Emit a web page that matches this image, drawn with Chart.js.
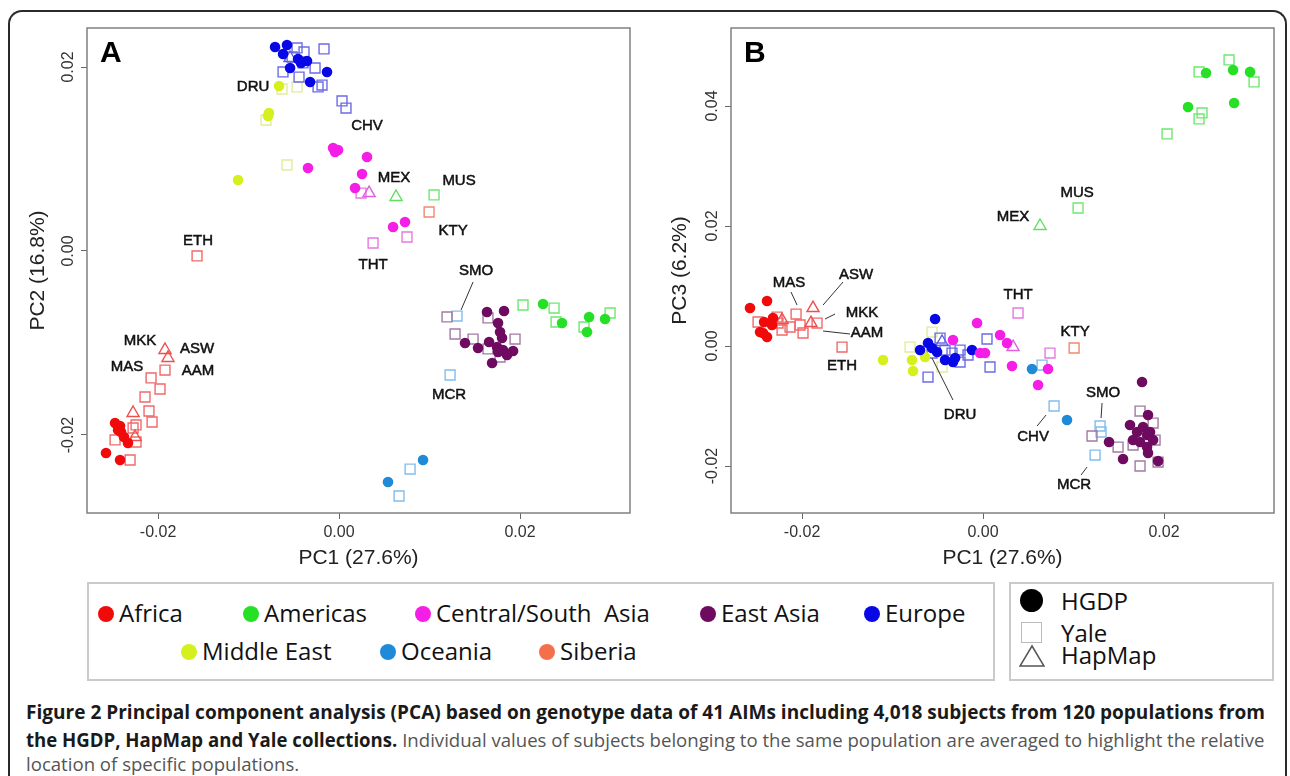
<!DOCTYPE html>
<html>
<head>
<meta charset="utf-8">
<script src="https://cdn.jsdelivr.net/npm/chart.js@4.4.1/dist/chart.umd.min.js"></script>
<style>
body { margin: 0; width: 1290px; height: 776px; overflow: hidden; background: #fff; position: relative; font-family: 'Open Sans', sans-serif; }
#frame { position: absolute; left: 8px; top: 10px; width: 1279px; height: 820px; box-sizing: border-box; border: 2px solid #2a2a2a; border-bottom: none; border-radius: 14px 14px 0 0; }
canvas { position: absolute; top: 0; }
#chartA { left: 0; }
#chartB { left: 645px; }
.box { position: absolute; border: 2px solid #cacaca; box-sizing: border-box; top: 582px; height: 99px; }
.item { position: absolute; font-size: 24px; line-height: 30px; color: #111; white-space: nowrap; }
.dot { position: absolute; width: 16px; height: 16px; border-radius: 50%; }
.cap { position: absolute; left: 26px; font-size: 19px; line-height: 26px; white-space: nowrap; transform-origin: 0 50%; color: #555; }
.cap b { color: #1a1a1a; }
</style>
</head>
<body>
<div id="frame"></div>
<canvas id="chartA" width="645" height="575"></canvas>
<canvas id="chartB" width="645" height="575"></canvas>
<div class="box" style="left:87px;width:908px"></div>
<div class="box" style="left:1009px;width:265px"></div>
<div id="legend"></div>
<div class="dot" style="left:1020px;top:589px;width:23px;height:23px;background:#000"></div>
<div style="position:absolute;left:1021px;top:622px;width:21px;height:21px;border:1.5px solid #bbb;box-sizing:border-box"></div>
<svg style="position:absolute;left:1019px;top:644px" width="26" height="24"><polygon points="13,2 25,22 1,22" fill="none" stroke="#555" stroke-width="1.5"/></svg>
<div class="item" style="left:1061px;top:586px">HGDP</div>
<div class="item" style="left:1061px;top:618px">Yale</div>
<div class="item" style="left:1061px;top:640px">HapMap</div>
<div class="cap" id="cap1" style="top:699px"><b>Figure 2 Principal component analysis (PCA) based on genotype data of 41 AIMs including 4,018 subjects from 120 populations from</b></div>
<div class="cap" id="cap2" style="top:727px"><b>the HGDP, HapMap and Yale collections.</b> Individual values of subjects belonging to the same population are averaged to highlight the relative</div>
<div class="cap" id="cap3" style="top:751px">location of specific populations.</div>
<script>
const regions = ['Africa', 'Americas', 'Central/South  Asia', 'East Asia', 'Europe', 'Middle East', 'Oceania', 'Siberia'];
const regionColors = ['#f00a0a', '#25e025', '#f51ee6', '#6e0a5f', '#0808e6', '#d6f01e', '#1e8ad8', '#f4704c'];
const yaleColors = ['#ef6a6a', '#6ee86e', '#e57ae0', '#a27aa2', '#6c6ce6', '#e2ec98', '#82bdec', '#f0896c'];
const hapmapColors = ['#ee5050', '#60e060', '#e060e0', '#a060a0', '#6060e0', '#d6e880', '#70b0e8', '#f08060'];

const xTicks = [-0.02, 0, 0.02];
const yTicksA = [-0.02, 0, 0.02];
const yTicksB = [-0.02, 0, 0.02, 0.04];

// [region, PC1, PC2]
const hgdpA = [
    [0, -0.02475, -0.01870], [0, -0.02420, -0.01902], [0, -0.02409, -0.01967], [0, -0.02376, -0.02022],
    [0, -0.02332, -0.02087], [0, -0.02575, -0.02196], [0, -0.02420, -0.02272], [0, -0.02442, -0.01946],
    [1, 0.02254, -0.00576], [1, 0.02464, -0.00783], [1, 0.02763, -0.00717], [1, 0.02740, -0.00880], [1, 0.02939, -0.00739],
    [2, -0.00066, 0.01120], [2, -0.00011, 0.01098], [2, -0.00044, 0.01076], [2, 0.00309, 0.01022], [2, -0.00343, 0.00902],
    [2, 0.00254, 0.00837], [2, 0.00177, 0.00685], [2, 0.00597, 0.00261], [2, 0.00729, 0.00315],
    [3, 0.01635, -0.00663], [3, 0.01823, -0.00652], [3, 0.01757, -0.00783], [3, 0.01779, -0.00880], [3, 0.01801, -0.00946],
    [3, 0.01392, -0.01000], [3, 0.01536, -0.01054], [3, 0.01658, -0.00989], [3, 0.01746, -0.01044], [3, 0.01812, -0.01076],
    [3, 0.01923, -0.01087], [3, 0.01856, -0.01130], [3, 0.01691, -0.01217], [3, 0.01757, -0.01098],
    [4, -0.00707, 0.02217], [4, -0.00575, 0.02239], [4, -0.00619, 0.02141], [4, -0.00541, 0.01989], [4, -0.00420, 0.02044],
    [4, -0.00354, 0.02065], [4, -0.00133, 0.01946], [4, -0.00320, 0.01837], [4, -0.00453, 0.02087],
    [5, -0.00663, 0.01794], [5, -0.00774, 0.01500], [5, -0.00785, 0.01467], [5, -0.01116, 0.00772],
    [6, 0.00928, -0.02272], [6, 0.00541, -0.02511]
];
const yaleA = [
    [0, -0.01923, -0.01294], [0, -0.02077, -0.01380], [0, -0.01978, -0.01500], [0, -0.02144, -0.01587], [0, -0.02100, -0.01739],
    [0, -0.02066, -0.01859], [0, -0.02243, -0.01891], [0, -0.02475, -0.02054], [0, -0.02243, -0.02076], [0, -0.02309, -0.02272],
    [0, -0.02276, -0.01924], [0, -0.01569, -0.00054],
    [1, 0.01050, 0.00609], [1, 0.02033, -0.00587], [1, 0.02376, -0.00620], [1, 0.02398, -0.00772], [1, 0.02707, -0.00826], [1, 0.02995, -0.00674],
    [2, 0.00243, 0.00630], [2, 0.00376, 0.00087], [2, 0.00751, 0.00152],
    [3, 0.01193, -0.00717], [3, 0.01646, -0.00728], [3, 0.01282, -0.00902], [3, 0.01481, -0.00957], [3, 0.01945, -0.00957],
    [3, 0.01646, -0.01065], [3, 0.01779, -0.01152],
    [4, -0.00464, 0.02207], [4, -0.00387, 0.02163], [4, -0.00166, 0.02196], [4, -0.00519, 0.02109], [4, -0.00619, 0.01946],
    [4, -0.00442, 0.01891], [4, -0.00265, 0.01989], [4, -0.00232, 0.01783], [4, -0.00188, 0.01804], [4, 0.00033, 0.01631],
    [4, 0.00077, 0.01554], [4, -0.00398, 0.02044],
    [5, -0.00630, 0.01761], [5, -0.00464, 0.01783], [5, -0.00807, 0.01424], [5, -0.00575, 0.00935],
    [6, 0.01304, -0.00707], [6, 0.01227, -0.01348], [6, 0.00785, -0.02370], [6, 0.00663, -0.02663],
    [7, 0.00995, 0.00424]
];
const hapmapA = [
    [0, -0.01923, -0.01076], [0, -0.01890, -0.01163], [0, -0.02276, -0.01761], [0, -0.02254, -0.02022],
    [1, 0.00630, 0.00587], [2, 0.00332, 0.00630], [4, -0.00541, 0.02098]
];

// [region, PC1, PC3]
const hgdpB = [
    [0, -0.02575, 0.00633], [0, -0.02387, 0.00750], [0, -0.02420, 0.00400], [0, -0.02464, 0.00233],
    [0, -0.02387, 0.00150], [0, -0.02431, 0.00217], [0, -0.02321, 0.00467], [0, -0.02332, 0.00350],
    [1, 0.02464, 0.04551], [1, 0.02763, 0.04601], [1, 0.02950, 0.04568], [1, 0.02265, 0.03984], [1, 0.02774, 0.04051],
    [2, -0.00066, 0.00383], [2, -0.00332, 0.00100], [2, -0.00033, -0.00117], [2, 0.00022, -0.00117], [2, 0.00188, 0.00183],
    [2, 0.00265, 0.00050], [2, 0.00320, -0.00333], [2, 0.00608, -0.00650], [2, 0.00718, -0.00383],
    [3, 0.01757, -0.00600], [3, 0.01823, -0.01150], [3, 0.01624, -0.01317], [3, 0.01702, -0.01434], [3, 0.01768, -0.01350],
    [3, 0.01812, -0.01484], [3, 0.01845, -0.01434], [3, 0.01658, -0.01567], [3, 0.01735, -0.01600], [3, 0.01812, -0.01684],
    [3, 0.01823, -0.01784], [3, 0.01392, -0.01600], [3, 0.01547, -0.01884], [3, 0.01934, -0.01917], [3, 0.01879, -0.01567],
    [4, -0.00530, 0.00450], [4, -0.00696, -0.00067], [4, -0.00608, 0.00050], [4, -0.00564, -0.00033], [4, -0.00420, -0.00233],
    [4, -0.00332, -0.00267], [4, -0.00309, -0.00200], [4, -0.00122, -0.00067], [4, -0.00508, -0.00100],
    [5, -0.01105, -0.00233], [5, -0.00785, -0.00233], [5, -0.00774, -0.00417], [5, -0.00641, -0.00183],
    [6, 0.00541, -0.00383], [6, 0.00928, -0.01233]
];
const yaleB = [
    [0, -0.02486, 0.00400], [0, -0.02276, 0.00483], [0, -0.02221, 0.00267], [0, -0.02133, 0.00317], [0, -0.02066, 0.00533],
    [0, -0.02022, 0.00350], [0, -0.01989, 0.00217], [0, -0.01834, 0.00383], [0, -0.02265, 0.00383], [0, -0.01558, -0.00017],
    [1, 0.02718, 0.04768], [1, 0.02387, 0.04568], [1, 0.02995, 0.04401], [1, 0.02420, 0.03884], [1, 0.02387, 0.03784],
    [1, 0.02033, 0.03534], [1, 0.01050, 0.02300],
    [2, 0.00387, 0.00550], [2, 0.00740, -0.00117],
    [3, 0.01735, -0.01084], [3, 0.01879, -0.01284], [3, 0.01204, -0.01500], [3, 0.01492, -0.01684], [3, 0.01658, -0.01650],
    [3, 0.01901, -0.01567], [3, 0.01735, -0.02000], [3, 0.01934, -0.01934],
    [4, -0.00475, 0.00133], [4, -0.00420, -0.00067], [4, -0.00343, -0.00117], [4, -0.00254, -0.00067], [4, -0.00254, -0.00267],
    [4, -0.00166, -0.00150], [4, -0.00608, -0.00517], [4, 0.00044, 0.00117], [4, 0.00077, -0.00350], [4, -0.00564, -0.00117],
    [5, -0.00807, -0.00017], [5, -0.00564, 0.00233], [5, -0.00453, -0.00350],
    [6, 0.00652, -0.00317], [6, 0.00785, -0.01000], [6, 0.01293, -0.01333], [6, 0.01304, -0.01433], [6, 0.01238, -0.01817],
    [7, 0.01006, -0.00033]
];
const hapmapB = [
    [0, -0.01879, 0.00633], [0, -0.01901, 0.00383], [0, -0.02221, 0.00433],
    [1, 0.00630, 0.02000], [2, 0.00332, -0.00017], [4, -0.00453, 0.00067]
];

// population tags [text, PC1, PCy] and leader lines [x1, y1, x2, y2]
const tagsA = [
    ['DRU', -0.00950, 0.01783], ['CHV', 0.00309, 0.01359], ['MEX', 0.00608, 0.00794], ['MUS', 0.01326, 0.00761],
    ['KTY', 0.01260, 0.00217], ['THT', 0.00376, -0.00152], ['ETH', -0.01558, 0.00109], ['SMO', 0.01514, -0.00217],
    ['MKK', -0.02199, -0.00978], ['ASW', -0.01569, -0.01065], ['MAS', -0.02343, -0.01261], ['AAM', -0.01558, -0.01304],
    ['MCR', 0.01216, -0.01565]
];
const leadersA = [[0.01481, -0.00337, 0.01348, -0.00641]];
const tagsB = [
    ['MEX', 0.00332, 0.02150], ['MUS', 0.01039, 0.02550], ['MAS', -0.02144, 0.01050], ['ASW', -0.01403, 0.01184],
    ['MKK', -0.01337, 0.00550], ['AAM', -0.01282, 0.00217], ['ETH', -0.01558, -0.00333], ['THT', 0.00387, 0.00850],
    ['KTY', 0.01017, 0.00233], ['DRU', -0.00254, -0.01150], ['CHV', 0.00553, -0.01517], ['SMO', 0.01326, -0.00784],
    ['MCR', 0.01006, -0.02317]
];
const leadersB = [
    [-0.02122, 0.00900, -0.02055, 0.00683], [-0.01547, 0.01067, -0.01768, 0.00683], [-0.01635, 0.00533, -0.01746, 0.00450],
    [-0.01768, 0.00250, -0.01470, 0.00200], [-0.00564, -0.00200, -0.00332, -0.00900], [0.00597, -0.01334, 0.00696, -0.01150],
    [0.01315, -0.00950, 0.01304, -0.01200], [0.01083, -0.02150, 0.01149, -0.02017]
];

Chart.defaults.font.family = '"Liberation Sans", Arial, sans-serif';

// legend (dot centres)
const legendSpots = [[106, 614], [251, 614], [423, 614], [708, 614], [872, 614], [189, 652], [388, 652], [547, 652]];
let legendHtml = '';
regions.forEach((r, i) => {
    const [cx, cy] = legendSpots[i];
    legendHtml += '<div class="dot" style="left:' + (cx - 8) + 'px;top:' + (cy - 8) + 'px;background:' + regionColors[i] + '"></div>';
    legendHtml += '<div class="item" style="left:' + (cx + 13) + 'px;top:' + (cy - 16) + 'px">' + r.replace('  ', '&nbsp; ') + '</div>';
});
document.getElementById('legend').innerHTML = legendHtml;

function buildSets(rows, kind) {
    let sets = [];
    regions.forEach((r, i) => {
        const pts = rows.filter(p => p[0] === i).map(p => ({x: p[1], y: p[2]}));
        if (!pts.length) return;
        if (kind === 'hgdp') {
            sets.push({label: r, data: pts, pointStyle: 'circle', pointRadius: 5.3,
                backgroundColor: regionColors[i], borderWidth: 0});
        } else if (kind === 'yale') {
            sets.push({label: r, data: pts, pointStyle: 'rect', pointRadius: 7,
                backgroundColor: 'rgba(255,255,255,0)', borderColor: yaleColors[i], borderWidth: 1.4});
        } else {
            sets.push({label: r, data: pts, pointStyle: 'triangle', pointRadius: 7,
                backgroundColor: 'rgba(255,255,255,0)', borderColor: hapmapColors[i], borderWidth: 1.4});
        }
    });
    return sets;
}

const decor = {
    id: 'decor',
    afterDatasetsDraw(chart, args, opts) {
        const ctx = chart.ctx, a = chart.chartArea, sx = chart.scales.x, sy = chart.scales.y;
        ctx.save();
        ctx.strokeStyle = '#808080';
        ctx.lineWidth = 1.5;
        ctx.strokeRect(a.left, a.top, a.right - a.left, a.bottom - a.top);
        ctx.fillStyle = '#000';
        ctx.textBaseline = 'middle';
        ctx.textAlign = 'left';
        ctx.font = 'bold 30px "Liberation Sans", Arial, sans-serif';
        ctx.fillText(opts.panel, a.left + 13, a.top + 26);
        ctx.strokeStyle = '#333';
        ctx.lineWidth = 1;
        for (const l of opts.leaders) {
            ctx.beginPath();
            ctx.moveTo(sx.getPixelForValue(l[0]), sy.getPixelForValue(l[1]));
            ctx.lineTo(sx.getPixelForValue(l[2]), sy.getPixelForValue(l[3]));
            ctx.stroke();
        }
        // tags look a little heavy in the print, so add a hairline stroke
        ctx.font = '15px "Liberation Sans", Arial, sans-serif';
        ctx.textAlign = 'center';
        ctx.fillStyle = '#111';
        ctx.strokeStyle = '#111';
        ctx.lineWidth = 0.5;
        for (const t of opts.tags) {
            const px = sx.getPixelForValue(t[1]), py = sy.getPixelForValue(t[2]);
            ctx.fillText(t[0], px, py);
            ctx.strokeText(t[0], px, py);
        }
        ctx.restore();
    }
};

function buildChart(canvas, panel, sets, yMin, yMax, yTicks, yTitle, yWidth, yTitlePad, rightPad, tags, leaders) {
    new Chart(canvas, {
        type: 'scatter',
        data: {datasets: sets},
        options: {
            responsive: false,
            animation: false,
            events: [],
            layout: {padding: {left: 0, top: 28, right: rightPad, bottom: 0}},
            scales: {
                x: {
                    type: 'linear', min: -0.02785, max: 0.03215,
                    afterBuildTicks: s => { s.ticks = xTicks.map(v => ({value: v})); },
                    afterFit: s => { s.height = 62; },
                    grid: {drawOnChartArea: false, drawTicks: true, tickLength: 6, color: '#666'},
                    border: {display: false},
                    ticks: {color: '#333', font: {size: 16}, padding: 4, autoSkip: false, maxRotation: 0,
                        callback: v => v.toFixed(2)},
                    title: {display: true, text: 'PC1 (27.6%)', color: '#222', font: {size: 21},
                        padding: {top: 0, bottom: 4}}
                },
                y: {
                    type: 'linear', min: yMin, max: yMax,
                    afterBuildTicks: s => { s.ticks = yTicks.map(v => ({value: v})); },
                    afterFit: s => { s.width = yWidth; },
                    grid: {drawOnChartArea: false, drawTicks: true, tickLength: 6, color: '#666'},
                    border: {display: false},
                    ticks: {color: '#333', font: {size: 16}, padding: -6, autoSkip: false,
                        minRotation: 90, maxRotation: 90, crossAlign: 'center',
                        callback: v => v.toFixed(2)},
                    title: {display: true, text: yTitle, color: '#222', font: {size: 21},
                        padding: {top: yTitlePad, bottom: 0}}
                }
            },
            plugins: {
                legend: {display: false},
                tooltip: {enabled: false},
                decor: {panel: panel, tags: tags, leaders: leaders}
            }
        },
        plugins: [decor]
    });
}

buildChart(document.getElementById('chartA'), 'A',
    buildSets(hgdpA, 'hgdp').concat(buildSets(hapmapA, 'hapmap'), buildSets(yaleA, 'yale')),
    -0.02848, 0.02424, yTicksA, 'PC2 (16.8%)', 87, 26, 15, tagsA, leadersA);
buildChart(document.getElementById('chartB'), 'B',
    buildSets(hgdpB, 'hgdp').concat(buildSets(hapmapB, 'hapmap'), buildSets(yaleB, 'yale')),
    -0.02783, 0.0530, yTicksB, 'PC3 (6.2%)', 86, 23, 16, tagsB, leadersB);

// caption lines are stretched to the column width like the typeset original
function fitCaption() {
    const target = 1239;
    const c1 = document.getElementById('cap1');
    const c2 = document.getElementById('cap2');
    const c3 = document.getElementById('cap3');
    const k1 = target / c1.scrollWidth;
    const k2 = target / c2.scrollWidth;
    c1.style.transform = 'scaleX(' + k1 + ')';
    c2.style.transform = 'scaleX(' + k2 + ')';
    c3.style.transform = 'scaleX(' + k2 + ')';
}
if (document.fonts && document.fonts.ready) {
    document.fonts.ready.then(fitCaption);
} else {
    fitCaption();
}
</script>
</body>
</html>
